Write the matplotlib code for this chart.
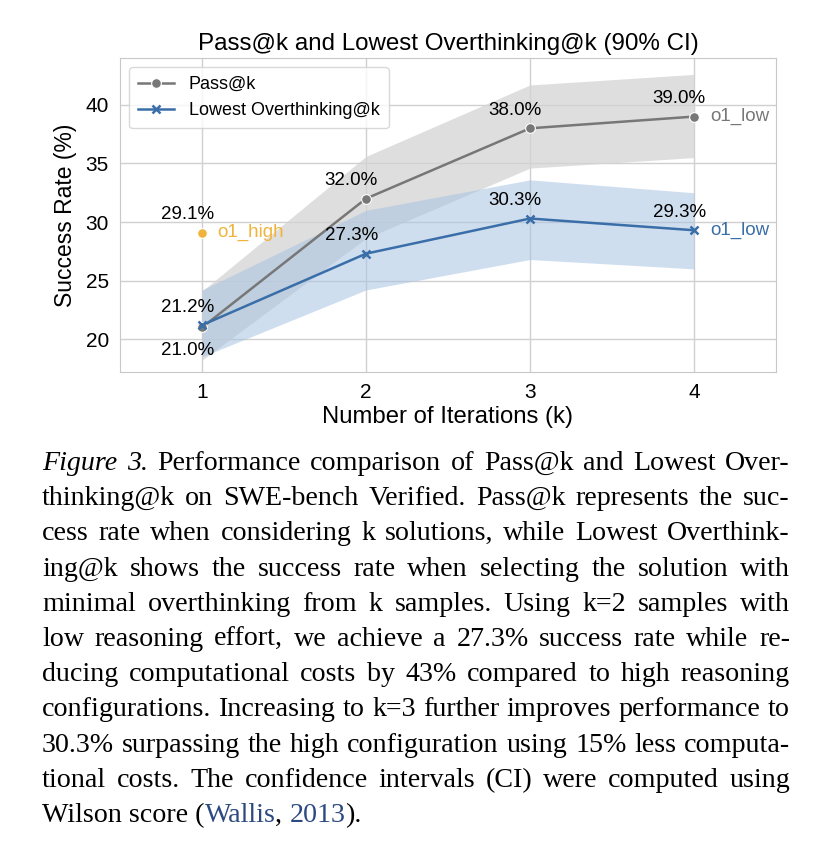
import matplotlib
matplotlib.use("Agg")
import matplotlib.pyplot as plt
import numpy as np

# data
k = [1, 2, 3, 4]
pass_k = [21.0, 32.0, 38.0, 39.0]
pass_lo = [18.2, 28.6, 34.6, 35.5]
pass_hi = [24.1, 35.6, 41.7, 42.6]
low_k = [21.2, 27.3, 30.3, 29.3]
low_lo = [18.5, 24.2, 26.8, 26.0]
low_hi = [24.2, 31.0, 33.6, 32.5]
o1_high = 29.1

caption = [
    "Figure 3.  Performance comparison of Pass@k and Lowest Over-",
    "thinking@k on SWE-bench Verified. Pass@k represents the suc-",
    "cess rate when considering k solutions, while Lowest Overthink-",
    "ing@k shows the success rate when selecting the solution with",
    "minimal overthinking from k samples. Using k=2 samples with",
    "low reasoning effort, we achieve a 27.3% success rate while re-",
    "ducing computational costs by 43% compared to high reasoning",
    "configurations. Increasing to k=3 further improves performance to",
    "30.3% surpassing the high configuration using 15% less computa-",
    "tional costs. The confidence intervals (CI) were computed using",
]

W, H = 832, 856
fig = plt.figure(figsize=(W / 100, H / 100), dpi=100)
plt.rcParams['font.family'] = ['Liberation Sans', 'DejaVu Sans']

ax = fig.add_axes([120 / W, 1 - 372 / H, 656 / W, 314 / H])
gray = "#777777"
blue = "#3a6ea8"
orange = "#f0b43c"

ax.fill_between(k, pass_lo, pass_hi, color="#d4d4d4", alpha=0.75, lw=0)
ax.fill_between(k, low_lo, low_hi, color="#a9c4e2", alpha=0.55, lw=0)
ax.plot(k, pass_k, color=gray, marker="o", ms=7, mec="white", mew=0.8, lw=1.8, label="Pass@k")
ax.plot(k, low_k, color=blue, marker="x", ms=5.5, mew=1.8, lw=1.8, label="Lowest Overthinking@k")
ax.plot([1], [o1_high], "o", color=orange, ms=7, mec="white", mew=0.8)

fs = 13.5
dx = 0.09
ax.text(1 - dx, o1_high + 0.8, f"{o1_high}%", ha="center", va="bottom", fontsize=fs)
ax.text(1.09, o1_high, "o1_high", ha="left", va="center", fontsize=fs, color=orange)
ax.text(1 - dx, low_k[0] + 0.8, f"{low_k[0]}%", ha="center", va="bottom", fontsize=fs)
ax.text(1 - dx, pass_k[0] - 1.2, f"{pass_k[0]}%", ha="center", va="top", fontsize=fs)
for i in range(1, 4):
    ax.text(k[i] - dx, pass_k[i] + 0.8, f"{pass_k[i]:.1f}%", ha="center", va="bottom", fontsize=fs)
    ax.text(k[i] - dx, low_k[i] + 0.8, f"{low_k[i]:.1f}%", ha="center", va="bottom", fontsize=fs)
ax.text(4.1, pass_k[3], "o1_low", ha="left", va="center", fontsize=fs, color=gray)
ax.text(4.1, low_k[3], "o1_low", ha="left", va="center", fontsize=fs, color=blue)

ax.set_xlim(0.5, 4.5)
ax.set_ylim(17.2, 44.0)
ax.set_xticks(k)
ax.set_yticks([20, 25, 30, 35, 40])
ax.tick_params(labelsize=15, length=0, pad=8)
ax.grid(True, color="#d0d0d0", lw=1)
ax.set_axisbelow(True)
for s in ax.spines.values():
    s.set_color("#c8c8c8")
ax.set_title("Pass@k and Lowest Overthinking@k (90% CI)", fontsize=17.4, pad=6)
ax.set_xlabel("Number of Iterations (k)", fontsize=17.2, labelpad=3)
ax.set_ylabel("Success Rate (%)", fontsize=16.5, labelpad=6)
ax.legend(loc="upper left", fontsize=13, frameon=True, edgecolor="#d0d0d0", handlelength=2.0,
          borderaxespad=0.5, labelspacing=0.5, borderpad=0.5)

# justified caption, placed word by word
renderer = fig.canvas.get_renderer()
left, right = 42, 790
cap_fs = 20.2
y0, dy = 470, 35.2


def text_width(s, **kw):
    t = fig.text(0, 0, s, fontsize=cap_fs, family="Liberation Serif", **kw)
    w = t.get_window_extent(renderer).width
    t.remove()
    return w


def place_words(words, y):
    objs = []
    for w, style, color in words:
        t = fig.text(0, 1 - y / H, w, fontsize=cap_fs, family="Liberation Serif",
                     style=style, color=color, va="baseline")
        objs.append(t)
    widths = [t.get_window_extent(renderer).width for t in objs]
    gap = (right - left - sum(widths)) / (len(objs) - 1)
    x = left
    for t, wd in zip(objs, widths):
        t.set_x(x / W)
        x += wd + gap


for i, line in enumerate(caption):
    parts = line.split()
    words = []
    for j, p in enumerate(parts):
        st = "italic" if (i == 0 and j < 2) else "normal"
        words.append((p, st, "black"))
    place_words(words, y0 + i * dy)

# last line, natural spacing with blue citation
link = "#2b4a80"
space_w = text_width("a a") - text_width("aa")
last = [("Wilson score (", "black"), ("Wallis", link), (",", "black"), (" ", None),
        ("2013", link), (").", "black")]
x = left
yl = y0 + len(caption) * dy
for s, c in last:
    if c is None:
        x += space_w
        continue
    t = fig.text(x / W, 1 - yl / H, s, fontsize=cap_fs, family="Liberation Serif",
                 color=c, va="baseline")
    x += t.get_window_extent(renderer).width

fig.savefig("out.png", dpi=100)
